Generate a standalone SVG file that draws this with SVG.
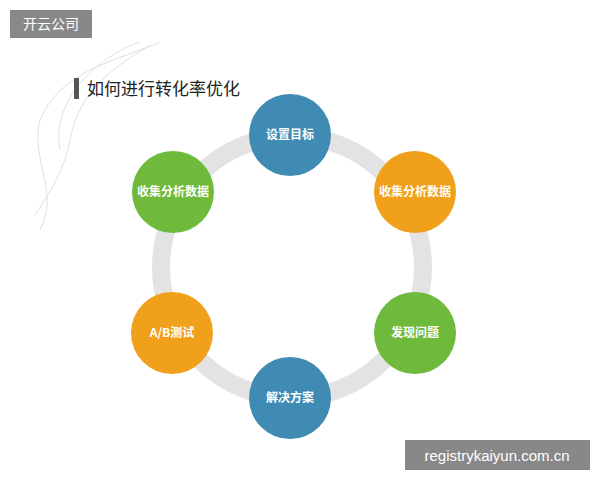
<svg xmlns="http://www.w3.org/2000/svg" width="600" height="480" viewBox="0 0 600 480">
<style>
.t{font-family:"Noto Sans CJK SC","Liberation Sans",sans-serif;font-size:12px;fill:#fff;text-anchor:middle;font-weight:bold}
.blue{fill:#3f8bb3}.orange{fill:#f0a01a}.green{fill:#6fba3c}
</style>
<rect width="600" height="480" fill="#fff"/>
<g id="smoke" fill="none" stroke="#ccc" stroke-width="1" opacity="0.6">
<path d="M160 42 C120 60 60 70 40 120 C30 160 60 190 40 230"/>
<path d="M150 45 C110 70 80 90 70 140 C65 170 45 200 35 215"/>
<path d="M140 42 C100 55 50 100 60 150"/>
</g>
<g id="watermark1"><rect x="10" y="10" width="82" height="28" fill="#888"/><text x="51" y="29" font-family="Noto Sans CJK SC,sans-serif" font-size="14" fill="#fff" text-anchor="middle">开云公司</text></g>
<g id="title"><rect x="74" y="78" width="5" height="21" fill="#555"/><text x="87" y="95" font-family="Noto Sans CJK SC,sans-serif" font-size="17" fill="#222">如何进行转化率优化</text></g>
<g id="connectors"><circle cx="292" cy="267" r="131" fill="none" stroke="#e3e3e3" stroke-width="18"/></g>
<g id="n1"><circle class="blue" cx="290" cy="135" r="41"/><text class="t" x="290" y="139">设置目标</text></g>
<g id="n2"><circle class="orange" cx="415" cy="192" r="41"/><text class="t" x="415" y="196">收集分析数据</text></g>
<g id="n3"><circle class="green" cx="415" cy="333" r="41"/><text class="t" x="415" y="337">发现问题</text></g>
<g id="n4"><circle class="blue" cx="290" cy="398" r="41"/><text class="t" x="290" y="402">解决方案</text></g>
<g id="n5"><circle class="orange" cx="172" cy="333" r="41"/><text class="t" x="172" y="337">A/B测试</text></g>
<g id="n6"><circle class="green" cx="173" cy="192" r="41"/><text class="t" x="173" y="196">收集分析数据</text></g>
<g id="watermark2"><rect x="405" y="440" width="185" height="30" fill="#888"/><text x="497" y="461" font-family="Liberation Sans,sans-serif" font-size="15" fill="#fff" text-anchor="middle">registrykaiyun.com.cn</text></g>
</svg>
